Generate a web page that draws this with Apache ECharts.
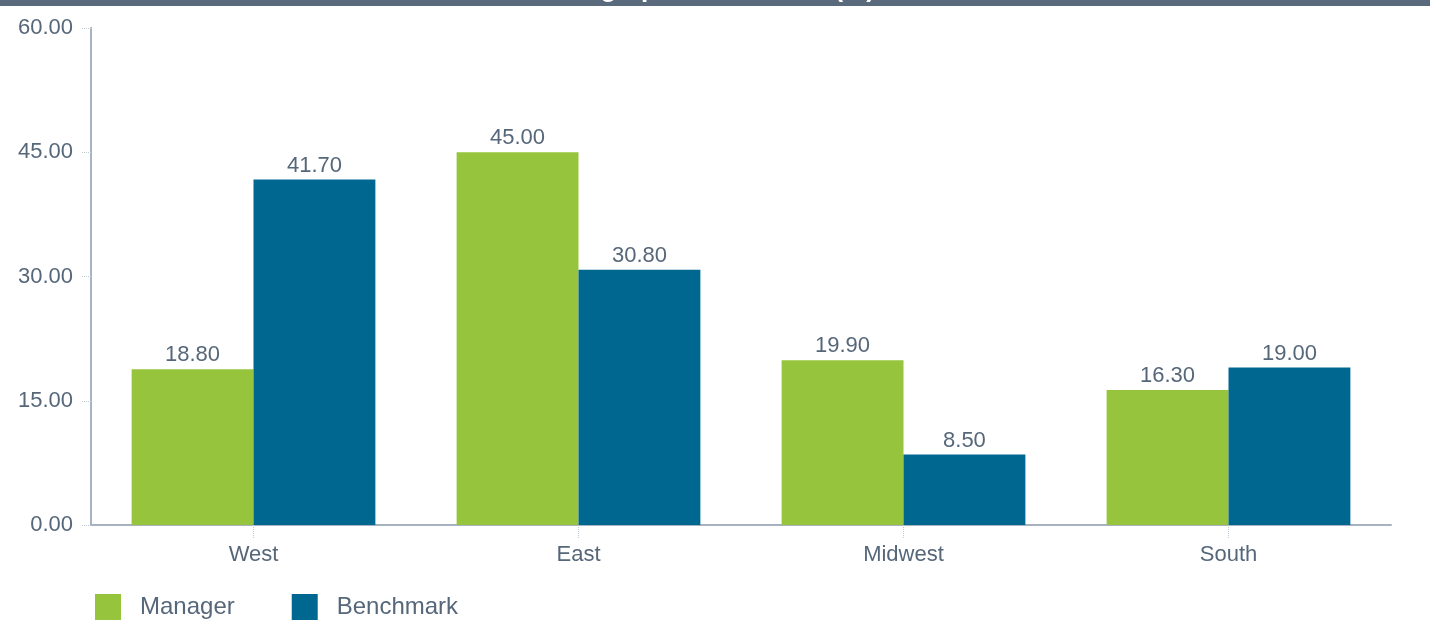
<!DOCTYPE html>
<html>
<head>
<meta charset="utf-8">
<script src="https://cdn.jsdelivr.net/npm/echarts@6/dist/echarts.min.js"></script>
<style>
  html, body { margin: 0; padding: 0; background: #ffffff; }
  #chart { width: 1430px; height: 635px; }
</style>
</head>
<body>
<div id="chart"></div>
<script>
const titleText = 'Geographic Allocation (%)'
const regions = ['West', 'East', 'Midwest', 'South']
const manager = [18.8, 45.0, 19.9, 16.3]
const benchmark = [41.7, 30.8, 8.5, 19.0]

const textColor = '#56677a'
const axisColor = '#a7b3c0'
const fontFamily = "'Liberation Sans', Arial, sans-serif"

const chart = echarts.init(document.getElementById('chart'))

const labelStyle = {
  show: true,
  position: 'top',
  distance: 3,
  color: textColor,
  fontSize: 22,
  fontFamily,
  formatter: p => p.value.toFixed(2),
}

chart.setOption({
  animation: false,
  backgroundColor: '#ffffff',
  graphic: [
    { type: 'rect', left: 0, top: 0, shape: { width: 1430, height: 6 }, style: { fill: '#586a7b' }, z: 0 },
  ],
  title: {
    text: titleText,
    left: 550,
    top: -23,
    padding: 0,
    textStyle: { color: '#ffffff', fontSize: 26, fontWeight: 'bold', fontFamily },
    z: 10,
  },
  legend: {
    left: 95,
    top: 594,
    itemWidth: 26,
    itemHeight: 26,
    itemGap: 57,
    padding: 0,
    icon: 'rect',
    textStyle: { color: textColor, fontSize: 24, fontFamily, padding: [0, 0, 0, 14] },
    data: ['Manager', 'Benchmark'],
  },
  grid: { left: 91, right: 39, top: 28, bottom: 110, containLabel: false },
  xAxis: {
    type: 'category',
    data: regions,
    axisLine: { lineStyle: { color: axisColor, width: 2 } },
    axisTick: { show: true, alignWithLabel: true, length: 14, lineStyle: { color: '#c0c8d0', type: 'dotted' } },
    axisLabel: { color: textColor, fontSize: 22, fontFamily, margin: 19 },
    splitLine: { show: false },
  },
  yAxis: {
    type: 'value',
    min: 0,
    max: 60,
    interval: 15,
    axisLine: { show: true, lineStyle: { color: axisColor, width: 2 } },
    axisTick: { show: true, length: 10, inside: false, lineStyle: { color: '#c0c8d0', type: 'dotted' } },
    axisLabel: { color: textColor, fontSize: 22, fontFamily, margin: 18, formatter: v => v.toFixed(2) },
    splitLine: { show: false },
  },
  series: [
    {
      name: 'Manager',
      type: 'bar',
      data: manager,
      barGap: '0%',
      barCategoryGap: '25%',
      itemStyle: { color: '#97c43d' },
      label: labelStyle,
    },
    {
      name: 'Benchmark',
      type: 'bar',
      data: benchmark,
      barGap: '0%',
      barCategoryGap: '25%',
      itemStyle: { color: '#006890' },
      label: labelStyle,
    },
  ],
})
</script>
</body>
</html>
